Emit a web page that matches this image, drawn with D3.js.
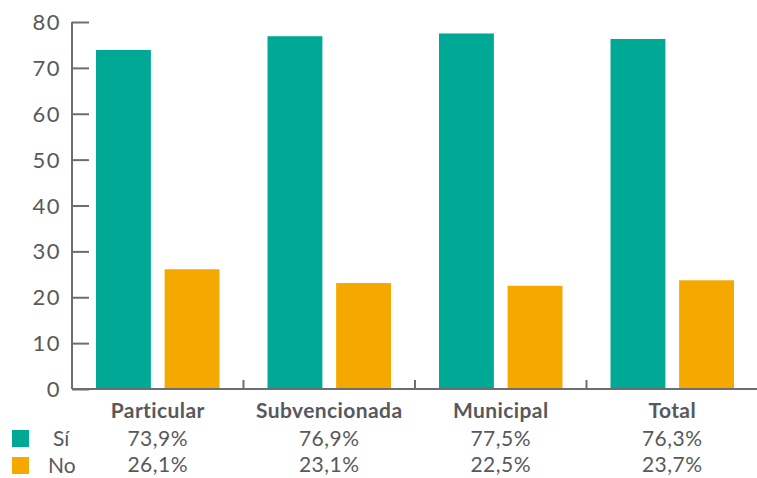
<!DOCTYPE html>
<html>
<head>
<meta charset="utf-8">
<script src="https://cdn.jsdelivr.net/npm/d3@7"></script>
<style>
body{margin:0;background:#fff;}
text{font-family:Lato,"Open Sans",sans-serif;}
</style>
</head>
<body>
<div id="content"></div>
<script>
// data
var categories = ["Particular", "Subvencionada", "Municipal", "Total"];
var si = [73.9, 76.9, 77.5, 76.3];
var no = [26.1, 23.1, 22.5, 23.7];
var siLabels = ["73,9%", "76,9%", "77,5%", "76,3%"];
var noLabels = ["26,1%", "23,1%", "22,5%", "23,7%"];
var yTicks = [0, 10, 20, 30, 40, 50, 60, 70, 80];
var seriesNames = ["Sí", "No"];

var width = 757, height = 478;
var margin = {left: 72, top: 22, right: 0, bottom: 89};
var teal = "#00a896", orange = "#f5a800", grey = "#6d6e71", txt = "#58595b";

var svg = d3.select("#content").append("svg")
  .attr("width", width).attr("height", height);

var x = d3.scaleBand().domain(categories).range([margin.left, 758]);
var y = d3.scaleLinear().domain([0, 80]).range([height - margin.bottom, margin.top]);
var inner = d3.scaleBand().domain(["si", "no"]).range([0, x.bandwidth()]).paddingInner(0.2).paddingOuter(0.35);

// y axis
var yAxis = svg.append("g").attr("transform", "translate(" + margin.left + ",0)")
  .call(d3.axisRight(y).tickValues(yTicks).tickSize(17).tickFormat(""));
yAxis.select(".domain").attr("d", "M0," + y(80) + "V" + y(0));
yAxis.selectAll("path,line").attr("stroke", grey).attr("stroke-width", 2);

svg.selectAll(".ylab").data(yTicks).enter().append("text")
  .attr("x", 61).attr("y", function(d){return y(d) + 8;})
  .attr("text-anchor", "end").attr("font-size", 22).attr("letter-spacing", 1.5).attr("fill", txt)
  .text(function(d){return d;});

// bars
var groups = svg.selectAll(".grp").data(categories).enter().append("g")
  .attr("transform", function(d){return "translate(" + x(d) + ",0)";});
groups.append("rect")
  .attr("x", inner("si")).attr("width", inner.bandwidth())
  .attr("y", function(d, i){return y(si[i]);})
  .attr("height", function(d, i){return y(0) - y(si[i]);})
  .attr("fill", teal);
groups.append("rect")
  .attr("x", inner("no")).attr("width", inner.bandwidth())
  .attr("y", function(d, i){return y(no[i]);})
  .attr("height", function(d, i){return y(0) - y(no[i]);})
  .attr("fill", orange);

// x axis
var xAxis = svg.append("g").attr("transform", "translate(0," + y(0) + ")");
xAxis.append("line").attr("x1", margin.left).attr("x2", width)
  .attr("stroke", grey).attr("stroke-width", 2);
xAxis.selectAll(".sep").data(categories.slice(1)).enter().append("line")
  .attr("x1", function(d){return x(d);}).attr("x2", function(d){return x(d);})
  .attr("y1", 0).attr("y2", -9).attr("stroke", grey).attr("stroke-width", 2);

// table
var cx = function(d){return x(d) + x.bandwidth() / 2;};
svg.selectAll(".cat").data(categories).enter().append("text")
  .attr("x", cx).attr("y", 418).attr("text-anchor", "middle")
  .attr("font-size", 21).attr("font-weight", "bold").attr("letter-spacing", 0.4).attr("fill", txt)
  .text(function(d){return d;});
svg.selectAll(".siv").data(categories).enter().append("text")
  .attr("x", cx).attr("y", 446).attr("text-anchor", "middle")
  .attr("font-size", 21).attr("letter-spacing", 0.5).attr("fill", txt)
  .text(function(d, i){return siLabels[i];});
svg.selectAll(".nov").data(categories).enter().append("text")
  .attr("x", cx).attr("y", 472).attr("text-anchor", "middle")
  .attr("font-size", 21).attr("letter-spacing", 0.5).attr("fill", txt)
  .text(function(d, i){return noLabels[i];});

// legend
var leg = svg.selectAll(".leg").data(seriesNames).enter().append("g")
  .attr("transform", function(d, i){return "translate(12," + (430 + i * 27) + ")";});
leg.append("rect").attr("width", 17).attr("height", 17)
  .attr("fill", function(d, i){return i === 0 ? teal : orange;});
leg.append("text").attr("x", function(d, i){return i === 0 ? 41 : 36;}).attr("y", 16)
  .attr("font-size", 21).attr("fill", txt)
  .text(function(d){return d;});
</script>
</body>
</html>
